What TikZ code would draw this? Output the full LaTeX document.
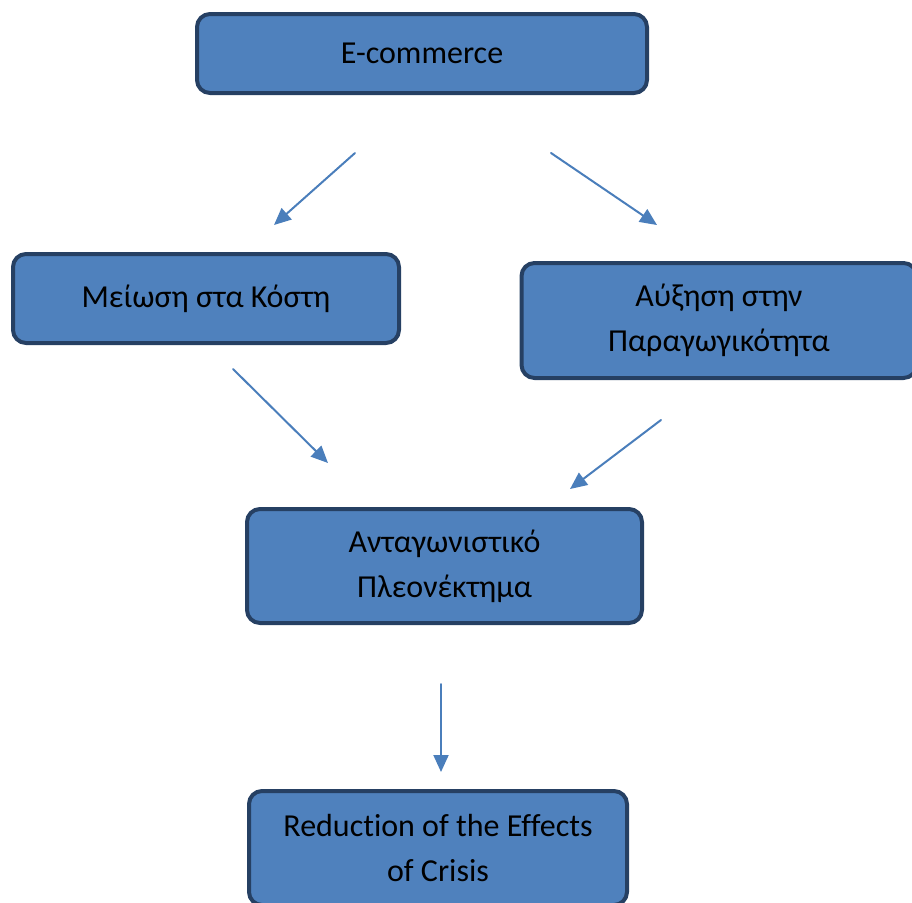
\documentclass[tikz,border=0pt]{standalone}
\usepackage{fontspec}
\setmainfont{Carlito}[Ligatures=NoCommon]
\usepackage{tikz}
\definecolor{boxfill}{rgb}{0.31,0.506,0.741}
\definecolor{boxline}{rgb}{0.149,0.251,0.388}
\definecolor{arrowblue}{rgb}{0.29,0.494,0.733}
\usetikzlibrary{arrows.meta}

\begin{document}
\begin{tikzpicture}[x=1pt, y=-1pt, line cap=round, line join=round,
  box/.style={draw=boxline, fill=boxfill, line width=4pt, rounded corners=13pt,
    align=center, inner sep=0pt, font=\fontsize{32}{45}\selectfont},
  link/.style={draw=arrowblue, line width=2pt, -{Triangle[length=17pt,width=15pt]}}]
	\useasboundingbox (0,0) rectangle (912,902);
	\clip (0,0) rectangle (912,902);
	% boxes
	\node [box, minimum width=450pt, minimum height=79pt] (ecom) at (422,53.5) {E-commerce};
	\node [box, minimum width=386pt, minimum height=89pt] (cost) at (206,298.5) {Μείωση στα Κόστη};
	\node [box, minimum width=395pt, minimum height=115pt] (prod) at (719,320.5) {Αύξηση στην\\Παραγωγικότητα};
	\node [box, minimum width=395pt, minimum height=114pt] (comp) at (444.5,566) {Ανταγωνιστικό\\Πλεονέκτημα};
	\node [box, minimum width=378pt, minimum height=114pt] (crisis) at (438,848) {Reduction of the Effects\\of Crisis};
	% arrow ends
	\coordinate (a1) at (355,153);
	\coordinate (b1) at (274,225);
	\coordinate (a2) at (551,153);
	\coordinate (b2) at (657,225);
	\coordinate (a3) at (233,369);
	\coordinate (b3) at (328,463);
	\coordinate (a4) at (661,420);
	\coordinate (b4) at (570,489);
	\coordinate (a5) at (441,684);
	\coordinate (b5) at (441,772);
	\draw [link] (a1) -- (b1);
	\draw [link] (a2) -- (b2);
	\draw [link] (a3) -- (b3);
	\draw [link] (a4) -- (b4);
	\draw [link] (a5) -- (b5);
\end{tikzpicture}
\end{document}
